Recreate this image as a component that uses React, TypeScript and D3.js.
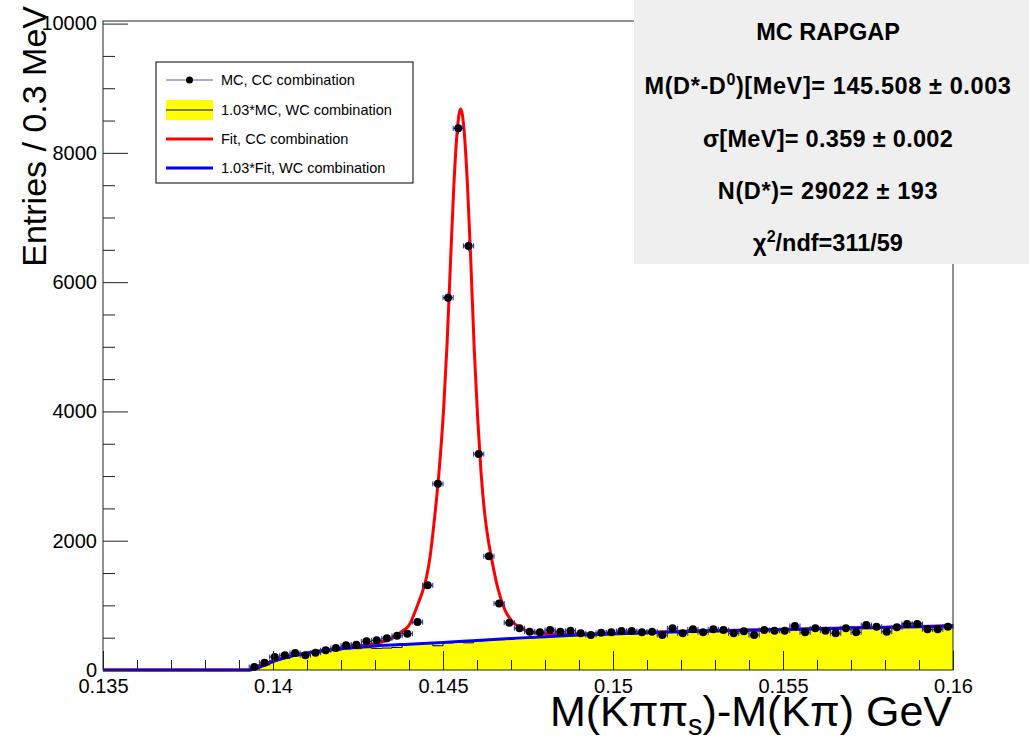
import React, { useEffect, useRef } from 'react'
import * as d3 from 'd3'

// bins of 0.3 MeV
const binStart = 0.1393
const binWidth = 0.0003

// MC, CC combination (points)
const ccCounts = [
  46, 113, 201, 227, 263, 227, 268, 305, 340, 382, 392, 444, 459, 490, 530, 562, 742, 1310, 2880, 5760,
  8380, 6560, 3340, 1760, 1030, 731, 645, 593, 585, 619, 593, 608, 567, 541, 575, 583, 603, 603, 583, 593,
  541, 645, 567, 629, 583, 629, 619, 567, 600, 541, 619, 608, 608, 680, 583, 645, 608, 567, 645, 583,
  696, 670, 593, 660, 711, 711, 629, 629, 670,
]

// 1.03*MC, WC combination (yellow histogram)
const wcCounts = [
  25, 80, 150, 180, 220, 245, 265, 290, 310, 325, 330, 345, 335, 340, 350, 405, 410, 415, 375, 420,
  430, 420, 450, 460, 470, 475, 490, 495, 505, 515, 520, 530, 535, 540, 545, 550, 555, 560, 570, 575,
  580, 585, 590, 585, 595, 600, 605, 600, 610, 615, 610, 620, 630, 640, 625, 630, 640, 635, 645, 650,
  640, 655, 660, 655, 720, 725, 665, 670, 680,
]

// Fit, CC combination
const fitCCx = [
  0.135, 0.1393, 0.1396, 0.14, 0.1405, 0.141, 0.1415, 0.142, 0.1425, 0.143, 0.1435, 0.1438, 0.144, 0.14427,
  0.14442, 0.14452, 0.14462, 0.14472, 0.14482, 0.14492, 0.14502, 0.14512, 0.14522, 0.14532, 0.14542, 0.14552,
  0.14562, 0.14572, 0.14582, 0.14592, 0.14602, 0.14612, 0.14622, 0.14632, 0.14642, 0.14662, 0.14682, 0.14702,
  0.1473, 0.1476, 0.148, 0.1485, 0.149, 0.1495, 0.15, 0.151, 0.152, 0.153, 0.154, 0.155, 0.156, 0.157, 0.158,
  0.159, 0.16,
]
const fitCCy = [
  0, 0, 70, 135, 212, 264, 302, 338, 370, 410, 490, 600, 690, 1030,
  1250, 1450, 1750, 2200, 2700, 3300, 4050, 5050, 6300, 7500, 8350, 8680,
  8350, 7500, 6300, 4950, 3900, 3050, 2450, 2050, 1750, 1250, 930, 760,
  650, 580, 560, 555, 556, 560, 566, 583, 598, 610, 620, 630, 641, 652, 663,
  673, 684,
]

// 1.03*Fit, WC combination
const fitWCx = [
  0.135, 0.1393, 0.1395, 0.1397, 0.14, 0.1405, 0.141, 0.1415, 0.142, 0.1425, 0.143, 0.144, 0.145, 0.146,
  0.147, 0.148, 0.149, 0.15, 0.151, 0.152, 0.153, 0.154, 0.155, 0.156, 0.157, 0.158, 0.159, 0.16,
]
const fitWCy = [
  0, 0, 25, 65, 130, 212, 262, 300, 330, 352, 372, 400, 425, 458,
  488, 516, 540, 558, 576, 591, 604, 615, 626, 637, 648, 659, 670, 680,
]

const xTicks = [0.135, 0.14, 0.145, 0.15, 0.155, 0.16]
const yTicks = [0, 2000, 4000, 6000, 8000, 10000]

const legendLabels = ['MC, CC combination', '1.03*MC, WC combination', 'Fit, CC combination', '1.03*Fit, WC combination']

const FONT = 'Liberation Sans, Arial, Helvetica, sans-serif'

const App = () => {
  const ref = useRef<SVGSVGElement>(null)

  useEffect(() => {
    const svg = d3.select(ref.current)
    svg.selectAll('*').remove()

    const left = 103, right = 953, top = 21, bottom = 670
    const x = d3.scaleLinear().domain([0.135, 0.16]).range([left, right])
    const y = d3.scaleLinear().domain([0, 10040]).range([bottom, top])

    const edges = d3.range(ccCounts.length + 1).map((i) => binStart + i * binWidth)
    const centers = ccCounts.map((_, i) => binStart + (i + 0.5) * binWidth)

    const plot = svg.append('g')

    // yellow WC histogram
    const histPts: [number, number][] = wcCounts.map((v, i) => [edges[i], v])
    histPts.push([edges[edges.length - 1], wcCounts[wcCounts.length - 1]])
    plot.append('path')
      .datum(histPts)
      .attr('fill', '#ffff00')
      .attr('d', d3.area<[number, number]>()
        .x((d) => x(d[0])).y0(y(0)).y1((d) => y(d[1]))
        .curve(d3.curveStepAfter))
    plot.append('path')
      .datum(histPts)
      .attr('fill', 'none')
      .attr('stroke', '#000')
      .attr('stroke-width', 1)
      .attr('d', d3.line<[number, number]>()
        .x((d) => x(d[0])).y((d) => y(d[1]))
        .curve(d3.curveStepAfter))

    const line = d3.line<[number, number]>()
      .x((d) => x(d[0])).y((d) => y(d[1]))
      .curve(d3.curveMonotoneX)

    plot.append('path')
      .datum(fitCCx.map((v, i) => [v, fitCCy[i]] as [number, number]))
      .attr('fill', 'none').attr('stroke', '#ff0000').attr('stroke-width', 3)
      .attr('d', line)

    plot.append('path')
      .datum(fitWCx.map((v, i) => [v, fitWCy[i]] as [number, number]))
      .attr('fill', 'none').attr('stroke', '#0000ff').attr('stroke-width', 3)
      .attr('d', line)

    // data points with error bars
    const pts = plot.append('g')
    centers.forEach((c, i) => {
      const cx = x(c), cy = y(ccCounts[i])
      const hw = (x(binWidth) - x(0)) / 2
      const err = Math.sqrt(ccCounts[i])
      const g = pts.append('g').attr('stroke', '#2222cc').attr('stroke-width', 1)
      g.append('line').attr('x1', cx - hw).attr('x2', cx + hw).attr('y1', cy).attr('y2', cy)
      g.append('line').attr('x1', cx - hw).attr('x2', cx - hw).attr('y1', cy - 2.5).attr('y2', cy + 2.5)
      g.append('line').attr('x1', cx + hw).attr('x2', cx + hw).attr('y1', cy - 2.5).attr('y2', cy + 2.5)
      g.append('line').attr('x1', cx).attr('x2', cx).attr('y1', y(ccCounts[i] + err)).attr('y2', y(ccCounts[i] - err))
      pts.append('circle').attr('cx', cx).attr('cy', cy).attr('r', 4).attr('fill', '#000')
    })

    // frame
    svg.append('rect')
      .attr('x', left).attr('y', top).attr('width', right - left).attr('height', bottom - top)
      .attr('fill', 'none').attr('stroke', '#222').attr('stroke-width', 1)

    // axes
    const styleAxis = (g: any) => {
      g.select('.domain').remove()
      g.selectAll('line').attr('stroke', '#222')
      g.selectAll('text').attr('font-family', FONT).attr('font-size', 20).attr('fill', '#000')
    }

    svg.append('g').attr('transform', `translate(0,${bottom})`)
      .call(d3.axisBottom(x).tickValues(xTicks).tickSize(-19).tickPadding(9).tickFormat((d) => String(+(+d).toFixed(3))))
      .call(styleAxis)
    svg.append('g').attr('transform', `translate(0,${bottom})`)
      .call(d3.axisBottom(x).tickValues(d3.range(136, 160).filter((v) => v % 5 !== 0).map((v) => v / 1000)).tickSize(-10).tickFormat(() => ''))
      .call(styleAxis)

    svg.append('g').attr('transform', `translate(${left},0)`)
      .call(d3.axisLeft(y).tickValues(yTicks).tickSize(-25).tickPadding(6).tickFormat((d) => String(d)))
      .call(styleAxis)
    svg.append('g').attr('transform', `translate(${left},0)`)
      .call(d3.axisLeft(y).tickValues(d3.range(500, 10000, 500).filter((v) => v % 2000 !== 0)).tickSize(-12).tickFormat(() => ''))
      .call(styleAxis)

    // axis titles
    const xt = svg.append('text')
      .attr('x', 952).attr('y', 726).attr('text-anchor', 'end')
      .attr('font-family', FONT).attr('font-size', 43).attr('fill', '#000')
    xt.append('tspan').text('M(K\u03c0\u03c0')
    xt.append('tspan').attr('font-size', 29).attr('dy', 9).text('s')
    xt.append('tspan').attr('dy', -9).text(')-M(K\u03c0) GeV')

    svg.append('text')
      .attr('transform', 'translate(46,6) rotate(-90)')
      .attr('text-anchor', 'end')
      .attr('font-family', FONT).attr('font-size', 34).attr('fill', '#000')
      .text('Entries / 0.3 MeV')

    // legend
    const lg = svg.append('g').attr('font-family', FONT).attr('font-size', 14.5)
    lg.append('rect').attr('x', 156).attr('y', 62).attr('width', 257).attr('height', 121)
      .attr('fill', '#fff').attr('stroke', '#000').attr('stroke-width', 1)
    const rowY = [80, 110, 139, 168]
    legendLabels.forEach((t, i) => {
      lg.append('text').attr('x', 221).attr('y', rowY[i] + 5).text(t)
    })
    lg.append('line').attr('x1', 166).attr('x2', 213).attr('y1', rowY[0]).attr('y2', rowY[0])
      .attr('stroke', '#5555cc').attr('stroke-width', 1)
    lg.append('circle').attr('cx', 189.5).attr('cy', rowY[0]).attr('r', 3.5).attr('fill', '#000')
    lg.append('rect').attr('x', 166).attr('y', rowY[1] - 10).attr('width', 47).attr('height', 20).attr('fill', '#ffff00')
    lg.append('line').attr('x1', 166).attr('x2', 213).attr('y1', rowY[1]).attr('y2', rowY[1]).attr('stroke', '#000')
    lg.append('line').attr('x1', 166).attr('x2', 213).attr('y1', rowY[2]).attr('y2', rowY[2])
      .attr('stroke', '#ff0000').attr('stroke-width', 3)
    lg.append('line').attr('x1', 166).attr('x2', 213).attr('y1', rowY[3]).attr('y2', rowY[3])
      .attr('stroke', '#0000ff').attr('stroke-width', 3)

    // stats box
    const sb = svg.append('g').attr('font-family', FONT).attr('font-weight', 'bold').attr('font-size', 23.5)
      .attr('text-anchor', 'middle').attr('fill', '#000').style('white-space', 'pre')
    sb.append('rect').attr('x', 634).attr('y', 0).attr('width', 395).attr('height', 264).attr('fill', '#efefef')
    const cx = 828
    sb.append('text').attr('x', cx).attr('y', 40).text('MC RAPGAP')
    const l2 = sb.append('text').attr('x', cx).attr('y', 94).attr('letter-spacing', 0.6)
    l2.append('tspan').text('M(D*-D')
    l2.append('tspan').attr('font-size', 16).attr('dy', -9).text('0')
    l2.append('tspan').attr('dy', 9).text(')[MeV]= 145.508  \u00b1 0.003')
    sb.append('text').attr('x', cx).attr('y', 147).attr('letter-spacing', 0.3).text('\u03c3[MeV]= 0.359  \u00b1 0.002')
    sb.append('text').attr('x', cx).attr('y', 199).attr('letter-spacing', 0.6).text('N(D*)= 29022  \u00b1 193')
    const l5 = sb.append('text').attr('x', cx).attr('y', 251)
    l5.append('tspan').text('\u03c7')
    l5.append('tspan').attr('font-size', 16).attr('dy', -9).text('2')
    l5.append('tspan').attr('dy', 9).text('/ndf=311/59')
  }, [])

  return (
    <svg
      ref={ref}
      width={1029}
      height={744}
      style={{ position: 'absolute', left: 0, top: 0, background: '#fff' }}
    />
  )
}

export default App
